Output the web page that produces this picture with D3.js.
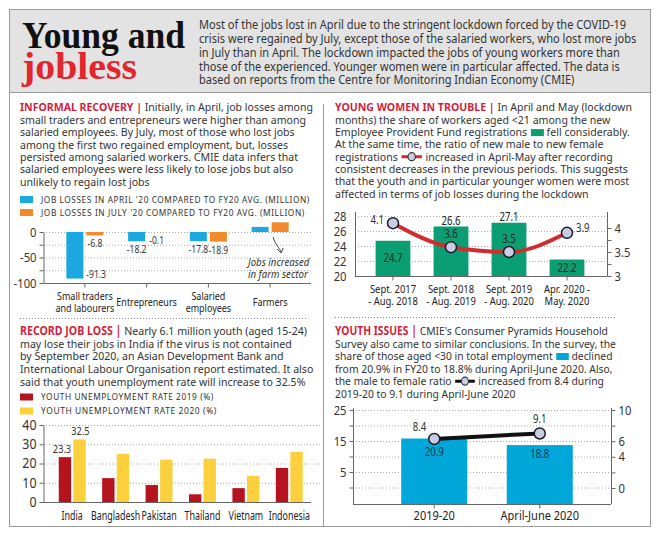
<!DOCTYPE html>
<html>
<head>
<meta charset="utf-8">
<script src="https://cdn.jsdelivr.net/npm/d3@7"></script>
<style>
  body { margin: 0; background: #fff; }
  svg { display: block; font-family: "Noto Sans", sans-serif; }
</style>
</head>
<body>
<div id="chart"></div>
<script>
// ---- data ----
var recoveryCategories = ["Small traders", "Entrepreneurs", "Salaried", "Farmers"];
var recoveryLabels = [["Small traders", "and labourers"], ["Entrepreneurs"], ["Salaried", "employees"], ["Farmers"]];
var lossApril = [-91.3, -18.2, -17.8, 10];
var lossJuly = [-6.8, -0.1, -18.9, 19];
var recoveryTicks = [0, -25, -50, -75, -100];

var eprPeriods = [["Sept. 2017", "- Aug. 2018"], ["Sept. 2018", "- Aug. 2019"], ["Sept. 2019", "- Aug. 2020"], ["Apr. 2020 -", "May. 2020"]];
var shareUnder21 = [24.7, 26.6, 27.1, 22.2];
var maleFemaleEpf = [4.1, 3.6, 3.5, 3.9];
var eprLeftTicks = [20, 22, 24, 26, 28];
var eprRightTicks = [3, 3.25, 3.5, 3.75, 4];

var countries = ["India", "Bangladesh", "Pakistan", "Thailand", "Vietnam", "Indonesia"];
var unemp2019 = [23.3, 12.4, 8.8, 4, 7.2, 17.7];
var unemp2020 = [32.5, 25, 22, 22.5, 13.5, 26];
var unempTicks = [0, 10, 20, 30, 40];

var youthPeriods = ["2019-20", "April-June 2020"];
var shareUnder30 = [20.9, 18.8];
var maleFemaleCmie = [8.4, 9.1];
var youthLeftTicks = [0, 5, 10, 15, 20, 25];
var youthRightLabels = ["0", "", "4", "6", "", "10"];

// ---- texts ----
var introLines = [
  ["Most of the jobs lost in April due to the stringent lockdown forced by the COVID-19"],
  ["crisis were regained by July, except those of the salaried workers, who lost more jobs"],
  ["in July than in April. The lockdown impacted the jobs of young workers more than"],
  ["those of the experienced. Younger women were in particular affected. The data is"],
  ["based on reports from the Centre for Monitoring Indian Economy (CMIE)"]
];
var recoveryText = [
  [{head: "INFORMAL RECOVERY | "}, "Initially, in April, job losses among"],
  ["small traders and entrepreneurs were higher than among"],
  ["salaried employees. By July, most of those who lost jobs"],
  ["among the first two regained employment, but, losses"],
  ["persisted among salaried workers. CMIE data infers that"],
  ["salaried employees were less likely to lose jobs but also"],
  ["unlikely to regain lost jobs"]
];
var womenText = [
  [{head: "YOUNG WOMEN IN TROUBLE | "}, "In April and May (lockdown"],
  ["months) the share of workers aged <21 among the new"],
  ["Employee Provident Fund registrations ", {mark: "bar", color: "#0b9e72"}, " fell considerably."],
  ["At the same time, the ratio of new male to new female"],
  ["registrations ", {mark: "line", color: "#d12a2f"}, " increased in April-May after recording"],
  ["consistent decreases in the previous periods. This suggests"],
  ["that the youth and in particular younger women were most"],
  ["affected in terms of job losses during the lockdown"]
];
var recordText = [
  [{head: "RECORD JOB LOSS | "}, "Nearly 6.1 million youth (aged 15-24)"],
  ["may lose their jobs in India if the virus is not contained"],
  ["by September 2020, an Asian Development Bank and"],
  ["International Labour Organisation report estimated. It also"],
  ["said that youth unemployment rate will increase to 32.5%"]
];
var youthText = [
  [{head: "YOUTH ISSUES | "}, "CMIE's Consumer Pyramids Household"],
  ["Survey also came to similar conclusions. In the survey, the"],
  ["share of those aged <30 in total employment ", {mark: "bar", color: "#00a7d8"}, " declined"],
  ["from 20.9% in FY20 to 18.8% during April-June 2020. Also,"],
  ["the male to female ratio ", {mark: "line", color: "#111"}, " increased from 8.4 during"],
  ["2019-20 to 9.1 during April-June 2020"]
];

var W = 659, H = 537;
var FONT = "Noto Sans";
var TXT = "#333";
var HEAD = "#d21f3c";
var K = 0.8; // horizontal squeeze for chart labels, the original face is narrow

var svg = d3.select("#chart").append("svg").attr("width", W).attr("height", H);
svg.append("rect").attr("width", W).attr("height", H).attr("fill", "#fff");

// frame
svg.append("rect").attr("x", 9.5).attr("y", 9.5).attr("width", 641).attr("height", 83)
  .attr("fill", "#e3e3e3").attr("stroke", "#9a9a9a");
var frame = svg.append("g").attr("stroke", "#9a9a9a").attr("fill", "none");
frame.append("path").attr("d", "M9.5,92.5 V526.5 H650.5 V92.5");
frame.append("line").attr("x1", 323.5).attr("x2", 323.5).attr("y1", 104).attr("y2", 526.5);
svg.append("line").attr("x1", 20).attr("x2", 307).attr("y1", 318.5).attr("y2", 318.5)
  .attr("stroke", "#888").attr("stroke-dasharray", "1,2");
svg.append("line").attr("x1", 335).attr("x2", 617).attr("y1", 317.5).attr("y2", 317.5)
  .attr("stroke", "#888").attr("stroke-dasharray", "1,2");

// title
var title = svg.append("text").attr("font-family", "Liberation Serif").attr("font-weight", "bold").attr("font-size", 37);
title.append("tspan").attr("x", 22).attr("y", 48).text("Young and")
  .attr("textLength", 163).attr("lengthAdjust", "spacingAndGlyphs").attr("fill", "#111");
title.append("tspan").attr("x", 22).attr("y", 79).text("jobless")
  .attr("textLength", 115).attr("lengthAdjust", "spacingAndGlyphs").attr("fill", "#e3262b");

// ---- text helpers ----
var tmp = svg.append("text").attr("font-family", FONT).attr("visibility", "hidden");
function nb(s) { return s.replace(/ /g, "\u00a0"); }
function measure(str, size, weight, spacing) {
  tmp.attr("font-size", size).attr("font-weight", weight || "normal")
    .attr("letter-spacing", spacing || 0).text(nb(str));
  return tmp.node().getComputedTextLength();
}
function markW(seg) { return seg.mark == "bar" ? 15 : 24; }
function lineWidth(line, size) {
  var w = 0;
  line.forEach(function (s) {
    if (typeof s == "string") w += measure(s, size);
    else if (s.head) w += measure(s.head, size, "bold");
    else w += markW(s);
  });
  return w;
}
// one <text> per paragraph, each run a tspan; inline legend keys drawn beside it
function drawLine(g, t, x, y, line, size) {
  line.forEach(function (s) {
    if (typeof s == "string" || s.head) {
      var str = typeof s == "string" ? s : s.head;
      var bold = typeof s != "string";
      t.append("tspan").attr("x", x).attr("y", y).text(nb(str))
        .attr("font-weight", bold ? "bold" : "normal")
        .attr("fill", bold ? HEAD : TXT);
      x += measure(str, size, bold ? "bold" : "normal");
    } else if (s.mark == "bar") {
      g.append("rect").attr("x", x + 1).attr("y", y - size * 0.62).attr("width", 14).attr("height", 7).attr("fill", s.color);
      x += markW(s);
    } else {
      var cy = y - size * 0.36;
      g.append("line").attr("x1", x + 1).attr("x2", x + 23).attr("y1", cy).attr("y2", cy)
        .attr("stroke", s.color).attr("stroke-width", 3);
      g.append("circle").attr("cx", x + 12).attr("cy", cy).attr("r", 4)
        .attr("fill", "#c9cde4").attr("stroke", "#333").attr("stroke-width", 1.2);
      x += markW(s);
    }
  });
}
function paragraph(x, y0, lh, lines, targetW, size) {
  var k = targetW / lineWidth(lines[0], size);
  var g = svg.append("g").attr("transform", "translate(" + x + ",0) scale(" + k + ",1)");
  var t = g.append("text").attr("font-family", FONT).attr("font-size", size);
  lines.forEach(function (line, i) {
    drawLine(g, t, 0, y0 + i * lh, line, size);
  });
}
function legendRow(x, y, color, label, targetW) {
  svg.append("rect").attr("x", x).attr("y", y - 3.5).attr("width", 13).attr("height", 7).attr("fill", color);
  var size = 8.6;
  var k = targetW / measure(label, size, "normal", 0.6);
  svg.append("text").attr("transform", "translate(" + (x + 21) + "," + (y + size * 0.36) + ") scale(" + k + ",1)")
    .text(label).attr("font-family", FONT).attr("font-size", size).attr("letter-spacing", 0.6).attr("fill", TXT);
}

paragraph(199, 29.5, 13.75, introLines, 428, 12);
paragraph(20, 111.5, 12.35, recoveryText, 293, 11.4);
paragraph(335, 111.5, 12.33, womenText, 297, 11.4);
paragraph(20, 335, 12.7, recordText, 287, 11.6);
paragraph(335, 335, 12.6, youthText, 273, 11.6);

legendRow(20, 199.5, "#1ba8e0", "JOB LOSSES IN APRIL '20 COMPARED TO FY20 AVG. (MILLION)", 269);
legendRow(20, 212.5, "#f08a2c", "JOB LOSSES IN JULY '20 COMPARED TO FY20 AVG. (MILLION)", 264);
legendRow(20, 397, "#b5141f", "YOUTH UNEMPLOYMENT RATE 2019 (%)", 173);
legendRow(20, 411, "#fcd03c", "YOUTH UNEMPLOYMENT RATE 2020 (%)", 176);

function styleAxis(g, size, k) {
  g.selectAll("path, line").attr("stroke", "#666");
  g.selectAll("text").attr("font-family", FONT).attr("font-size", size).attr("fill", TXT)
    .each(function () {
      var t = d3.select(this), tx = +t.attr("x") || 0;
      t.attr("x", 0).attr("transform", "translate(" + tx + ",0) scale(" + (k || K) + ",1)");
    });
}
function grid(ticks, scale, x1, x2) {
  svg.append("g").selectAll("line").data(ticks).join("line")
    .attr("x1", x1).attr("x2", x2)
    .attr("y1", function (d) { return scale(d) + 0.5; }).attr("y2", function (d) { return scale(d) + 0.5; })
    .attr("stroke", "#aaa").attr("stroke-dasharray", "1,2");
}
function valueLabel(g, x, y, txt, anchor, size, color, k) {
  return g.append("text").attr("transform", "translate(" + x + "," + y + ") scale(" + (k || K) + ",1)").text(txt)
    .attr("text-anchor", anchor || "middle").attr("font-family", FONT)
    .attr("font-size", size || 11).attr("fill", color || TXT);
}
// stacked lines in one text element
function multiLabel(g, x, y, lines, lh, anchor, size, color, k, italic) {
  var t = g.append("text").attr("transform", "translate(" + x + "," + y + ") scale(" + (k || K) + ",1)")
    .attr("text-anchor", anchor || "middle").attr("font-family", FONT)
    .attr("font-size", size).attr("fill", color || TXT);
  if (italic) t.attr("font-style", "italic");
  lines.forEach(function (l, j) {
    t.append("tspan").attr("x", 0).attr("y", j * lh).text(l);
  });
  return t;
}

// ---- chart 1: informal recovery ----
(function () {
  var x = d3.scaleBand().domain(recoveryCategories).range([54, 301]).paddingInner(0.4).paddingOuter(0.2);
  var sub = d3.scaleBand().domain(["apr", "jul"]).range([0, x.bandwidth()]).paddingInner(0.15);
  var y = d3.scaleLinear().domain([-100, 0]).range([283, 232]);
  grid(recoveryTicks.slice(0, 4), y, 43, 311);
  var ya = svg.append("g").attr("transform", "translate(43.5,0)")
    .call(d3.axisLeft(y).tickValues(recoveryTicks).tickSize(4).tickSizeOuter(0)
      .tickFormat(function (d) { return d % 50 == 0 ? String(d) : ""; }));
  styleAxis(ya, 12.5, 0.9);
  var xa = svg.append("g").attr("transform", "translate(0,283.5)")
    .call(d3.axisBottom(x).tickSize(4).tickSizeOuter(0).tickFormat(""));
  styleAxis(xa, 12);
  xa.select(".domain").attr("d", "M43.5,0H311");

  var series = [{key: "apr", vals: lossApril, color: "#1ba8e0"}, {key: "jul", vals: lossJuly, color: "#f08a2c"}];
  var g = svg.append("g");
  series.forEach(function (s) {
    g.selectAll(null).data(s.vals).join("rect")
      .attr("x", function (d, i) { return x(recoveryCategories[i]) + sub(s.key); })
      .attr("width", sub.bandwidth())
      .attr("y", function (d) { return y(Math.max(0, d)); })
      .attr("height", function (d) { return Math.abs(y(d) - y(0)); })
      .attr("fill", s.color);
    s.vals.forEach(function (d, i) {
      if (d >= 0) return;
      var bx = x(recoveryCategories[i]) + sub(s.key);
      if (d < -80) valueLabel(g, bx + sub.bandwidth() + 3, y(d) - 1, String(d), "start", 11.5, TXT, 0.74);
      else valueLabel(g, bx + sub.bandwidth() / 2, y(d) + 12, String(d), "middle", 11.5, TXT, 0.74);
    });
  });

  recoveryLabels.forEach(function (lines, i) {
    var cx = x(recoveryCategories[i]) + x.bandwidth() / 2;
    multiLabel(svg, cx, lines.length == 1 ? 306 : 300, lines, 11.5, "middle", 11.5, "#222", 0.78);
  });

  // farm annotation
  var fx = x("Farmers") + x.bandwidth() / 2;
  var ann = svg.append("g");
  ann.append("path").attr("fill", "none").attr("stroke", "#333").attr("stroke-width", 0.9)
    .attr("d", "M" + (fx + 3) + "," + (y(0) + 5) + " C" + (fx + 5) + "," + (y(0) + 13) + " " + (fx + 9) + "," + (y(0) + 15) + " " + (fx + 11) + "," + (y(0) + 20)
      + " M" + (fx + 7) + "," + (y(0) + 17) + " L" + (fx + 11) + "," + (y(0) + 21) + " L" + (fx + 13) + "," + (y(0) + 16));
  multiLabel(ann, 248, 266, ["Jobs increased", "in farm sector"], 11.5, "start", 11.5, "#333", 0.84, true);
})();

// ---- chart 2: young women in trouble ----
(function () {
  var keys = eprPeriods.map(function (p) { return p.join(" "); });
  var x = d3.scaleBand().domain(keys).range([364, 596]).paddingInner(0.4).paddingOuter(0.2);
  var y = d3.scaleLinear().domain([20, 28]).range([276, 216]);
  var y2 = d3.scaleLinear().domain([3, 4.25]).range([276, 216]);
  grid(eprLeftTicks.slice(1), y, 355, 607);
  var ya = svg.append("g").attr("transform", "translate(355.5,0)")
    .call(d3.axisLeft(y).tickValues(eprLeftTicks).tickSize(0).tickPadding(9).tickFormat(d3.format("d")));
  styleAxis(ya, 12.5, 0.9);
  ya.select(".domain").attr("d", "M0,212V276");
  var yb = svg.append("g").attr("transform", "translate(607.5,0)")
    .call(d3.axisRight(y2).tickValues(eprRightTicks).tickSize(4).tickSizeOuter(0)
      .tickFormat(function (d) { return d % 0.5 == 0 ? String(d) : ""; }));
  styleAxis(yb, 12.5, 0.9);
  yb.select(".domain").attr("d", "M0,212V276");
  var xa = svg.append("g").attr("transform", "translate(0,276.5)")
    .call(d3.axisBottom(x).tickSize(4).tickSizeOuter(0).tickFormat(""));
  styleAxis(xa, 12);
  xa.select(".domain").attr("d", "M355,0H607");

  var g = svg.append("g");
  g.selectAll("rect").data(shareUnder21).join("rect")
    .attr("x", function (d, i) { return x(keys[i]); }).attr("width", x.bandwidth())
    .attr("y", function (d) { return y(d); }).attr("height", function (d) { return y(20) - y(d); })
    .attr("fill", "#0b9e72");
  var cx = function (i) { return x(keys[i]) + x.bandwidth() / 2; };
  shareUnder21.forEach(function (d, i) {
    var top = y(d), lp = y2(maleFemaleEpf[i]);
    if (lp < top) valueLabel(g, cx(i), (top + 276) / 2 + 4, d.toFixed(1), "middle", 12, "#1f2a22");
    else valueLabel(g, cx(i), top - 2, d.toFixed(1), "middle", 12, "#222");
  });
  var line = d3.line().x(function (d, i) { return cx(i); }).y(function (d) { return y2(d); }).curve(d3.curveMonotoneX);
  g.append("path").datum(maleFemaleEpf).attr("d", line).attr("fill", "none")
    .attr("stroke", "#d12a2f").attr("stroke-width", 4);
  g.selectAll("circle").data(maleFemaleEpf).join("circle")
    .attr("cx", function (d, i) { return cx(i); }).attr("cy", function (d) { return y2(d); })
    .attr("r", 5.5).attr("fill", "#c9cde4").attr("stroke", "#1a1a2a").attr("stroke-width", 1.5);
  maleFemaleEpf.forEach(function (d, i) {
    var px = cx(i), py = y2(d);
    if (i == 0) valueLabel(g, px - 9, py + 1, d.toFixed(1), "end", 12);
    else if (i == maleFemaleEpf.length - 1) valueLabel(g, px + 9, py - 1, d.toFixed(1), "start", 12);
    else valueLabel(g, px, py - 9, d.toFixed(1), "middle", 12, "#1f2a22");
  });
  eprPeriods.forEach(function (lines, i) {
    multiLabel(svg, cx(i), 293, lines, 11.5, "middle", 11.5, "#222", 0.82);
  });
})();

// ---- chart 3: record job loss ----
(function () {
  var x = d3.scaleBand().domain(countries).range([50.5, 311]).paddingInner(0.38).paddingOuter(0.19);
  var sub = d3.scaleBand().domain(["2019", "2020"]).range([0, x.bandwidth()]).paddingInner(0.15);
  var y = d3.scaleLinear().domain([0, 40]).range([502, 425]);
  grid(unempTicks.slice(1), y, 43, 320);
  var ya = svg.append("g").attr("transform", "translate(43.5,0)")
    .call(d3.axisLeft(y).tickValues(unempTicks).tickSize(4).tickSizeOuter(0));
  styleAxis(ya, 13.5, 0.92);
  var xa = svg.append("g").attr("transform", "translate(0,502.5)")
    .call(d3.axisBottom(x).tickSize(0).tickPadding(9));
  styleAxis(xa, 12, 0.74);
  xa.selectAll("text").attr("fill", "#222");
  xa.select(".domain").attr("d", "M43.5,0H311");

  var g = svg.append("g");
  [{k: "2019", v: unemp2019, c: "#b5141f"}, {k: "2020", v: unemp2020, c: "#fcd03c"}].forEach(function (s, si) {
    g.selectAll(null).data(s.v).join("rect")
      .attr("x", function (d, i) { return x(countries[i]) + sub(s.k); }).attr("width", sub.bandwidth())
      .attr("y", function (d) { return y(d); }).attr("height", function (d) { return y(0) - y(d); })
      .attr("fill", s.c);
    var d0 = s.v[0], bx = x(countries[0]) + sub(s.k);
    if (si == 0) valueLabel(g, bx + sub.bandwidth(), y(d0) - 4, d0.toFixed(1), "end", 11.5);
    else valueLabel(g, bx + sub.bandwidth() / 2 + 1, y(d0) - 4, d0.toFixed(1), "middle", 11.5);
  });
})();

// ---- chart 4: youth issues ----
(function () {
  var x = d3.scaleBand().domain(youthPeriods).range([381.5, 592.5]).paddingInner(0.374).paddingOuter(0.187);
  var yAxis = d3.scaleLinear().domain([-5, 25]).range([503, 410]);
  var yBar = d3.scaleLinear().domain([0, 30]).range([504, 410]);
  var yLine = d3.scaleLinear().domain([0, 12]).range([504, 411]);
  var yRight = d3.scaleLinear().domain([0, 5]).range([488, 410]);
  grid(youthLeftTicks, yAxis, 353, 611);
  var ya = svg.append("g").attr("transform", "translate(353.5,0)")
    .call(d3.axisLeft(yAxis).tickValues(youthLeftTicks).tickSize(4).tickSizeOuter(0)
      .tickFormat(function (d) { return d % 10 == 5 ? String(d) : ""; }));
  styleAxis(ya, 12.5, 0.9);
  ya.select(".domain").attr("d", "M0,408V504");
  var yb = svg.append("g").attr("transform", "translate(611.5,0)")
    .call(d3.axisRight(yRight).tickValues(d3.range(youthRightLabels.length)).tickSize(4).tickSizeOuter(0)
      .tickFormat(function (d) { return youthRightLabels[d]; }));
  styleAxis(yb, 12.5, 0.9);
  yb.select(".domain").attr("d", "M0,408V504");
  var xa = svg.append("g").attr("transform", "translate(0,504.5)")
    .call(d3.axisBottom(x).tickSize(4).tickSizeOuter(0).tickPadding(3));
  styleAxis(xa, 12.5, 0.88);
  xa.selectAll("text").attr("fill", "#222");
  xa.select(".domain").attr("d", "M353,0H611");

  var g = svg.append("g");
  var cx = function (i) { return x(youthPeriods[i]) + x.bandwidth() / 2; };
  g.selectAll("rect").data(shareUnder30).join("rect")
    .attr("x", function (d, i) { return x(youthPeriods[i]); }).attr("width", x.bandwidth())
    .attr("y", function (d) { return yBar(d); }).attr("height", function (d) { return yBar(0) - yBar(d); })
    .attr("fill", "#00a7d8");
  shareUnder30.forEach(function (d, i) {
    valueLabel(g, cx(i), yBar(d) + 17 - i * 4, d.toFixed(1), "middle", 12, "#123447");
  });
  var line = d3.line().x(function (d, i) { return cx(i); }).y(function (d) { return yLine(d); });
  g.append("path").datum(maleFemaleCmie).attr("d", line).attr("fill", "none")
    .attr("stroke", "#111").attr("stroke-width", 4);
  g.selectAll("circle").data(maleFemaleCmie).join("circle")
    .attr("cx", function (d, i) { return cx(i); }).attr("cy", function (d) { return yLine(d); })
    .attr("r", 5.5).attr("fill", "#c9cde4").attr("stroke", "#1a1a2a").attr("stroke-width", 1.5);
  maleFemaleCmie.forEach(function (d, i) {
    if (i == 0) valueLabel(g, cx(i) - 8, yLine(d) - 8, d.toFixed(1), "end", 12);
    else valueLabel(g, cx(i), yLine(d) - 10, d.toFixed(1), "middle", 12);
  });
})();

tmp.remove();
</script>
</body>
</html>
